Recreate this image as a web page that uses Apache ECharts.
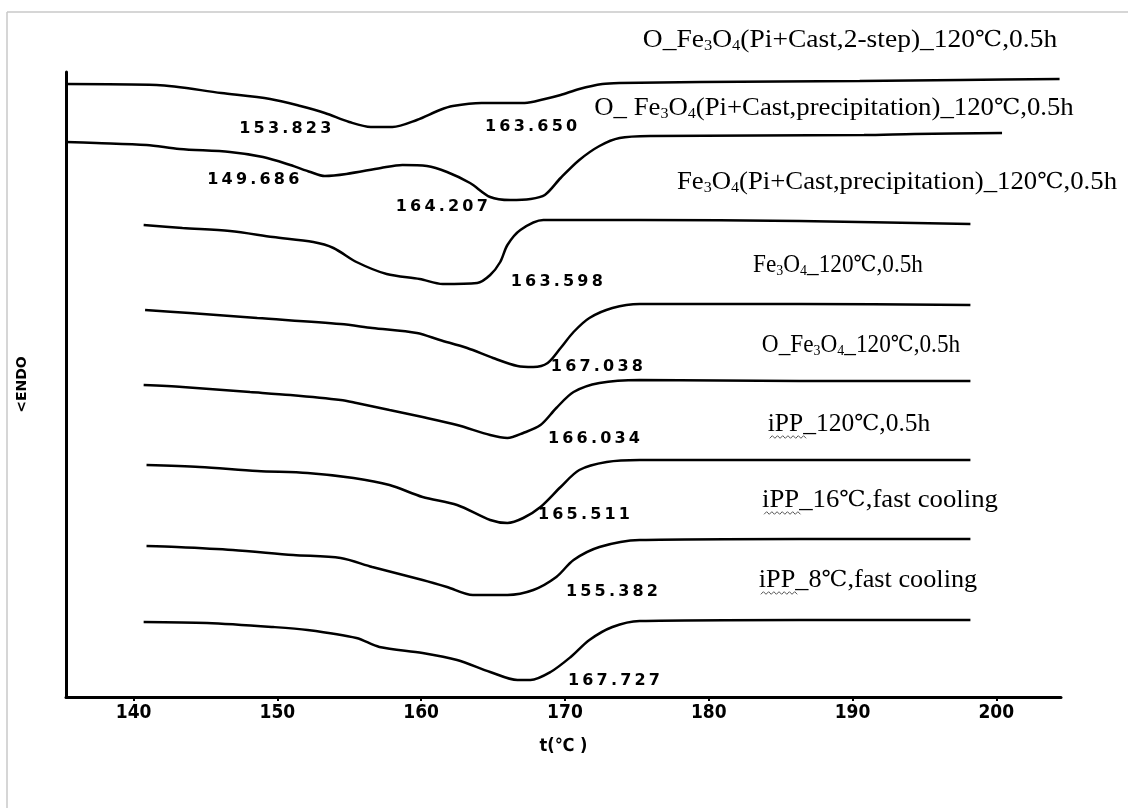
<!DOCTYPE html>
<html>
<head>
<meta charset="utf-8">
<title>DSC melting curves</title>
<script src="https://cdn.jsdelivr.net/npm/echarts@6/dist/echarts.min.js"></script>
<style>
  html, body { margin: 0; padding: 0; background: #fff; }
  #chart { width: 1128px; height: 808px; }
</style>
</head>
<body>
<div id="chart"></div>
<script>
// Sample names, top to bottom (Fe3O4 is drawn with subscripts)
const sampleNames = [
  'O_Fe3O4(Pi+Cast,2-step)_120\u2103,0.5h',
  'O_ Fe3O4(Pi+Cast,precipitation)_120\u2103,0.5h',
  'Fe3O4(Pi+Cast,precipitation)_120\u2103,0.5h',
  'Fe3O4_120\u2103,0.5h',
  'O_Fe3O4_120\u2103,0.5h',
  'iPP_120\u2103,0.5h',
  'iPP_16\u2103,fast cooling',
  'iPP_8\u2103,fast cooling'
];

// DSC traces: [temperature (°C), stacked heat flow (a.u.)]
const curve2step = [[135.3,61.3],[141.6,61.2],[146.1,60.4],[149.5,59.8],[151.6,59.1],[153.3,58.4],[155.0,57.5],[156.5,57.0],[158.0,57.0],[159.7,57.7],[161.3,58.7],[162.2,59.1],[164.2,59.4],[167.2,59.4],[168.6,59.8],[169.7,60.2],[171.0,60.8],[172.6,61.3],[173.8,61.4],[179.4,61.5],[190.5,61.6],[197.5,61.7],[204.4,61.8]];
const curveOPrecip = [[135.3,55.5],[137.4,55.4],[140.9,55.2],[143.2,54.8],[146.7,54.5],[149.0,54.0],[150.9,53.2],[152.3,52.5],[153.3,52.1],[154.8,52.3],[157.2,52.9],[158.7,53.2],[160.4,53.1],[161.8,52.5],[163.4,51.4],[164.8,50.0],[166.2,49.7],[167.6,49.8],[168.6,50.2],[169.7,51.9],[171.0,53.7],[172.4,55.1],[173.8,55.9],[176.0,56.1],[190.8,56.2],[194.3,56.3],[200.4,56.4]];
const curvePrecip = [[140.7,47.2],[143.4,46.9],[146.7,46.6],[149.7,46.0],[152.5,45.5],[153.9,44.9],[155.5,43.5],[157.6,42.3],[159.9,41.8],[161.5,41.3],[163.9,41.4],[164.8,42.2],[165.5,43.5],[166.0,45.2],[166.9,46.7],[168.5,47.7],[175.2,47.7],[186.3,47.6],[198.2,47.3]];
const curveFe = [[140.8,38.7],[143.9,38.4],[148.6,37.9],[154.4,37.3],[156.6,36.9],[159.7,36.4],[161.3,35.7],[163.2,34.9],[165.0,33.9],[166.7,33.1],[167.8,33.0],[168.8,33.4],[169.7,34.9],[170.6,36.5],[171.7,37.9],[173.3,38.9],[175.2,39.3],[186.3,39.3],[198.2,39.2]];
const curveOFe = [[140.7,31.2],[143.4,31.0],[148.1,30.5],[150.9,30.2],[154.4,29.7],[155.5,29.4],[157.8,28.7],[160.1,28.0],[162.5,27.2],[164.8,26.2],[166.0,25.9],[167.1,26.4],[168.3,27.2],[169.4,28.9],[170.6,30.5],[172.4,31.4],[175.2,31.7],[186.3,31.6],[198.2,31.6]];
const curveIPP120 = [[140.9,23.2],[144.6,23.0],[148.6,22.6],[152.1,22.4],[155.3,21.9],[157.8,21.2],[160.1,20.0],[162.5,19.2],[164.8,17.7],[166.0,17.4],[167.1,17.9],[168.3,19.0],[169.7,21.0],[171.0,22.7],[172.9,23.5],[175.2,23.7],[186.3,23.7],[198.2,23.7]];
const curveIPP16 = [[140.9,15.1],[143.0,15.0],[146.9,14.7],[151.1,14.2],[154.4,13.9],[156.6,13.0],[160.1,11.7],[161.8,11.0],[163.6,10.2],[166.0,10.2],[167.8,10.7],[169.4,12.0],[170.6,13.7],[172.4,15.0],[175.2,15.7],[186.3,15.8],[198.2,15.8]];
const curveIPP8 = [[140.7,7.5],[145.1,7.4],[149.7,7.0],[152.1,6.7],[155.5,5.9],[157.1,5.0],[160.1,4.4],[162.5,3.7],[164.8,2.5],[166.7,1.7],[167.6,1.7],[169.0,2.5],[170.4,4.0],[171.7,5.7],[173.3,7.0],[175.2,7.6],[186.3,7.7],[198.2,7.7]];

const curves = [curve2step, curveOPrecip, curvePrecip, curveFe, curveOFe, curveIPP120, curveIPP16, curveIPP8];

// Peak temperatures written next to the curves
const peakTexts = ['153.823', '163.650', '149.686', '164.207', '163.598', '167.038', '166.034', '165.511', '155.382', '167.727'];
const peakCurve = [0, 0, 1, 1, 2, 3, 4, 5, 6, 7];
const peakPoint = [7, 12, 8, 16, 10, 10, 10, 9, 9, 10];

const tickTemps = [140, 150, 160, 170, 180, 190, 200];

// ---- layout ----
const peakLayout = [
  { side: 'left',  off: [-39, 2] },
  { side: 'right', off: [3, 24] },
  { side: 'left',  off: [-25, 4] },
  { side: 'left',  off: [-22, 7] },
  { side: 'right', off: [33, -1] },
  { side: 'right', off: [17, 0] },
  { side: 'right', off: [40, 1] },
  { side: 'right', off: [30, -8] },
  { side: 'right', off: [58, -3] },
  { side: 'right', off: [37, 1] }
];
// centre x, centre y and horizontal stretch of each sample name
const nameLayout = [[850, 40], [834, 108], [897, 182], [838, 265], [861, 345], [849, 424], [880, 500], [868, 580]];
const nameStretch = [1.10, 1.07, 1.07, 0.93, 0.93, 1.02, 1.07, 1.05];

const serifFont = '"Liberation Serif", serif';
const symFont = '"DejaVu Serif", "Noto Sans CJK SC", serif';
const peakFont = '"DejaVu Sans", sans-serif';
const axisFont = '"Liberation Sans Narrow", "DejaVu Sans Condensed", "Noto Sans CJK SC", sans-serif';

const spaced = s => s.split('').join('\u2009');
// rich-text markup: Fe3O4 with subscripts, degree-Celsius sign in its own run
const richName = s => s
  .replace(/Fe3O4/g, 'Fe{s|3}O{s|4}')
  .replace(/\u2103/g, '{c|\u2103}');

const series = curves.map((data, ci) => {
  const marks = [];
  peakCurve.forEach((c, k) => {
    if (c !== ci) return;
    const lay = peakLayout[k];
    marks.push({
      coord: data[peakPoint[k]],
      label: {
        show: true,
        position: lay.side,
        distance: 0,
        offset: lay.off,
        formatter: spaced(peakTexts[k])
      }
    });
  });
  return {
    type: 'line',
    name: sampleNames[ci],
    data: data,
    showSymbol: false,
    symbol: 'none',
    smooth: 0.3,
    lineStyle: { color: '#000', width: 2.5 },
    silent: true,
    markPoint: {
      symbol: 'circle',
      symbolSize: 1,
      silent: true,
      itemStyle: { color: 'rgba(0,0,0,0)' },
      label: {
        color: '#000',
        fontFamily: peakFont,
        fontWeight: 'bold',
        fontSize: 16
      },
      data: marks
    }
  };
});

// frame lines and sample names
const graphics = [
  { type: 'line', shape: { x1: 7, y1: 12, x2: 1128, y2: 12 }, style: { stroke: '#c8c8c8', lineWidth: 1.5 }, silent: true },
  { type: 'line', shape: { x1: 7, y1: 12, x2: 7, y2: 808 }, style: { stroke: '#c8c8c8', lineWidth: 1.5 }, silent: true }
];
sampleNames.forEach((txt, i) => {
  const [x, y] = nameLayout[i];
  graphics.push({
    type: 'text', x: x, y: y, scaleX: nameStretch[i], silent: true,
    style: {
      text: richName(txt),
      fontFamily: serifFont, fontSize: 25, fill: '#000',
      align: 'center', verticalAlign: 'middle', lineHeight: 28,
      rich: {
        s: { fontFamily: serifFont, fontSize: 15, verticalAlign: 'bottom', lineHeight: 28 },
        c: { fontFamily: symFont, fontSize: 22, lineHeight: 28 }
      }
    }
  });
});

// wavy spell-check underline below the "iPP" part of the iPP sample names
const ctx = document.createElement('canvas').getContext('2d');
const measure = (s, font) => { ctx.font = font; return ctx.measureText(s).width; };
sampleNames.forEach((txt, i) => {
  if (!txt.startsWith('iPP')) return;
  const [cx, cy] = nameLayout[i];
  const k = nameStretch[i];
  const total = measure(txt.replace('\u2103', ''), '25px ' + serifFont) + measure('\u2103', '22px ' + symFont);
  const ippW = measure('iPP', '25px ' + serifFont) * k;
  const left = cx - total * k / 2;
  const pts = [];
  const n = Math.round(ippW / 2.6);
  for (let j = 0; j <= n; j++) pts.push([left + 2 + j * 2.6, cy + 13 + (j % 2 ? -1.3 : 1.3)]);
  graphics.push({ type: 'polyline', shape: { points: pts }, style: { stroke: '#555', lineWidth: 1, fill: null }, silent: true });
});

const chart = echarts.init(document.getElementById('chart'), null, { renderer: 'canvas' });
chart.setOption({
  animation: false,
  backgroundColor: '#fff',
  grid: { left: 66, right: 67, top: 72, bottom: 111, containLabel: false },
  xAxis: {
    type: 'value',
    min: 135.3,
    max: 204.5,
    name: 't(\u2103 )',
    nameLocation: 'middle',
    nameGap: 40,
    nameTextStyle: { fontFamily: axisFont, fontWeight: 'bold', fontSize: 18, color: '#000' },
    axisLine: { show: true, onZero: false, lineStyle: { color: '#000', width: 3 } },
    axisTick: { show: true, customValues: tickTemps, length: 4, lineStyle: { color: '#000', width: 2 } },
    axisLabel: { customValues: tickTemps, margin: 7, fontFamily: axisFont, fontWeight: 'bold', fontSize: 19, color: '#000' },
    splitLine: { show: false }
  },
  yAxis: {
    type: 'value',
    min: 0,
    max: 62.5,
    name: '<ENDO',
    nameLocation: 'middle',
    nameRotate: 90,
    nameGap: 37,
    nameTextStyle: { fontFamily: peakFont, fontWeight: 'bold', fontSize: 14, color: '#000' },
    axisLine: { show: true, lineStyle: { color: '#000', width: 3 } },
    axisTick: { show: false },
    axisLabel: { show: false },
    splitLine: { show: false }
  },
  series: series,
  graphic: graphics
});
</script>
</body>
</html>
